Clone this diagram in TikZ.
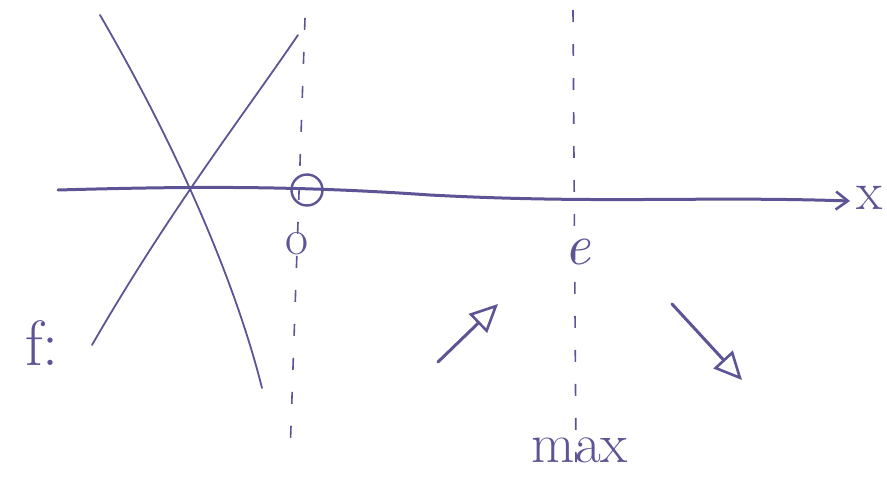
\documentclass[tikz,border=0pt]{standalone}
\usetikzlibrary{arrows.meta}
\definecolor{ink}{rgb}{0.36,0.33,0.58}
\begin{document}
\begin{tikzpicture}[x=1pt,y=-1pt,
  pen/.style={draw=ink,line width=3pt,line cap=round,line join=round},
  thinpen/.style={draw=ink,line width=1.8pt,line cap=round},
  guide/.style={draw=ink,line width=1.6pt,dash pattern=on 12pt off 22pt},
  lbl/.style={text=ink,inner sep=0pt}]
\useasboundingbox (0,0) rectangle (887,482);
% coordinates
\coordinate (axL) at (58,190);
\coordinate (axR) at (850,201);
\coordinate (z0t) at (305,18);
\coordinate (z0b) at (290,455);
\coordinate (ext) at (573,10);
\coordinate (exb) at (576,462);
% crossing branches
\draw[thinpen] (100,15) .. controls (190,170) and (240,300) .. (262,388);
\draw[thinpen] (92,345) .. controls (170,210) and (240,120) .. (298,35);
% guides
\draw[guide] (z0t) -- (z0b);
\draw[guide] (ext) -- (exb);
% x axis
\draw[pen,-{Straight Barb[length=12pt,width=18pt,line width=2.6pt]}] (axL) .. controls (200,186) and (300,186) .. (430,195)
  .. controls (600,204) and (700,196) .. (axR);
\node[lbl,anchor=west,font=\fontsize{54}{58}\selectfont] (xl) at (856,198) {x};
% zero marker
\node[circle,draw=ink,line width=2.4pt,minimum size=31pt,inner sep=0pt] (zc) at (307,190) {};
\node[lbl,font=\fontsize{50}{54}\selectfont] (z0) at (297,244) {o};
% labels
\node[lbl,font=\fontsize{58}{62}\selectfont\itshape] (e) at (578,252) {e};
\node[lbl,font=\fontsize{56}{60}\selectfont] (mx) at (580,450) {max};
\node[lbl,font=\fontsize{64}{68}\selectfont] (f) at (42,343) {f:};
% monotonic arrows
\coordinate (a1s) at (438,362);
\coordinate (a1e) at (498,304);
\coordinate (a2s) at (672,304);
\coordinate (a2e) at (742,380);
\draw[pen,-{Triangle[open,length=28pt,width=26pt,line width=2.6pt]}] (a1s) -- (a1e);
\draw[pen,-{Triangle[open,length=28pt,width=26pt,line width=2.6pt]}] (a2s) -- (a2e);
\end{tikzpicture}
\end{document}
